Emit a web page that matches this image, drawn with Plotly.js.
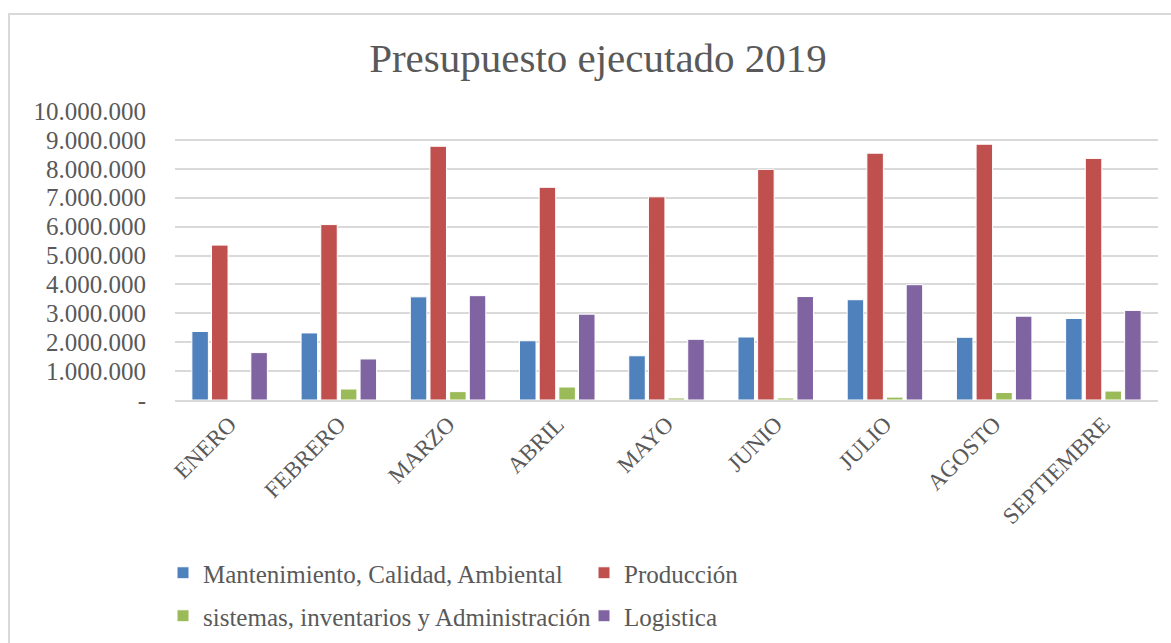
<!DOCTYPE html>
<html>
<head>
<meta charset="utf-8">
<script src="https://cdn.plot.ly/plotly-3.0.1.min.js"></script>
<style>
  html, body { margin: 0; padding: 0; background: #fff; }
  #chart { position: absolute; left: 0; top: 0; width: 1171px; height: 643px; }
  #frame { position: absolute; left: 8px; top: 13px; width: 1300px; height: 800px;
           border-left: 2px solid #d9d9d9; border-top: 2px solid #d9d9d9; pointer-events: none; }
</style>
</head>
<body>
<div id="chart"></div>
<div id="frame"></div>
<script>
const months = ["ENERO", "FEBRERO", "MARZO", "ABRIL", "MAYO", "JUNIO", "JULIO", "AGOSTO", "SEPTIEMBRE"];
const seriesNames = ["Mantenimiento, Calidad, Ambiental", "Producción", "sistemas, inventarios y Administración", "Logistica"];
const mantenimiento = [2370000, 2320000, 3570000, 2050000, 1530000, 2180000, 3470000, 2170000, 2820000];
const produccion    = [5360000, 6070000, 8780000, 7360000, 7030000, 7980000, 8540000, 8850000, 8360000];
const sistemas      = [0, 380000, 290000, 450000, 70000, 70000, 100000, 260000, 310000];
const logistica     = [1640000, 1420000, 3610000, 2970000, 2100000, 3580000, 3990000, 2900000, 3100000];
const yTickVals   = [0, 1000000, 2000000, 3000000, 4000000, 5000000, 6000000, 7000000, 8000000, 9000000, 10000000];
const yTickLabels = ["-", "1.000.000", "2.000.000", "3.000.000", "4.000.000", "5.000.000", "6.000.000", "7.000.000", "8.000.000", "9.000.000", "10.000.000"];

const colors = ["#4F81BD", "#C0504D", "#9BBB59", "#8064A2"];
const values = [mantenimiento, produccion, sistemas, logistica];
const legendIds = ["legend", "legend2", "legend3", "legend4"];

const FONT = "Liberation Serif, Times New Roman, serif";
const TXT = "#595959";

const data = values.map((v, i) => ({
  type: "bar",
  name: seriesNames[i],
  x: months,
  y: v,
  showlegend: true,
  marker: { color: colors[i], line: { color: "#ffffff", width: 1 } },
  legend: legendIds[i],
  hoverinfo: "x+y+name"
}));

function leg(xpx, ypx) {
  return {
    xref: "container", yref: "container",
    x: xpx / 1171, y: 1 - ypx / 643,
    xanchor: "left", yanchor: "middle",
    orientation: "h",
    font: { family: FONT, size: 25, color: TXT },
    bgcolor: "rgba(0,0,0,0)",
    borderwidth: 0
  };
}

const layout = {
  width: 1171, height: 643,
  margin: { l: 175, r: 13, t: 111, b: 243 },
  paper_bgcolor: "#ffffff",
  plot_bgcolor: "#ffffff",
  showlegend: true,
  font: { family: FONT, color: TXT },
  title: {
    text: "Presupuesto ejecutado 2019",
    font: { family: FONT, size: 41, color: TXT },
    xref: "container", yref: "container",
    x: 598 / 1171, xanchor: "center",
    y: 1 - 58 / 643, yanchor: "middle"
  },
  barmode: "group",
  bargap: 0.28,
  bargroupgap: 0.16,
  xaxis: {
    type: "category",
    tickangle: -45,
    tickfont: { family: FONT, size: 23, color: TXT },
    showgrid: false,
    showline: true, linecolor: "#d9d9d9", linewidth: 1.5,
    ticks: "",
    fixedrange: true
  },
  yaxis: {
    range: [0, 10000000],
    tickvals: yTickVals,
    ticktext: yTickLabels,
    tickfont: { family: FONT, size: 25, color: TXT },
    showgrid: true, gridcolor: "#d9d9d9", gridwidth: 1.5,
    zeroline: false,
    showline: false,
    ticks: "",
    ticklabelstandoff: 28,
    fixedrange: true
  },
  legend: leg(163, 573),
  legend2: leg(584, 573),
  legend3: leg(163, 616),
  legend4: leg(584, 616)
};

Plotly.newPlot("chart", data, layout, { displayModeBar: false });
</script>
</body>
</html>
